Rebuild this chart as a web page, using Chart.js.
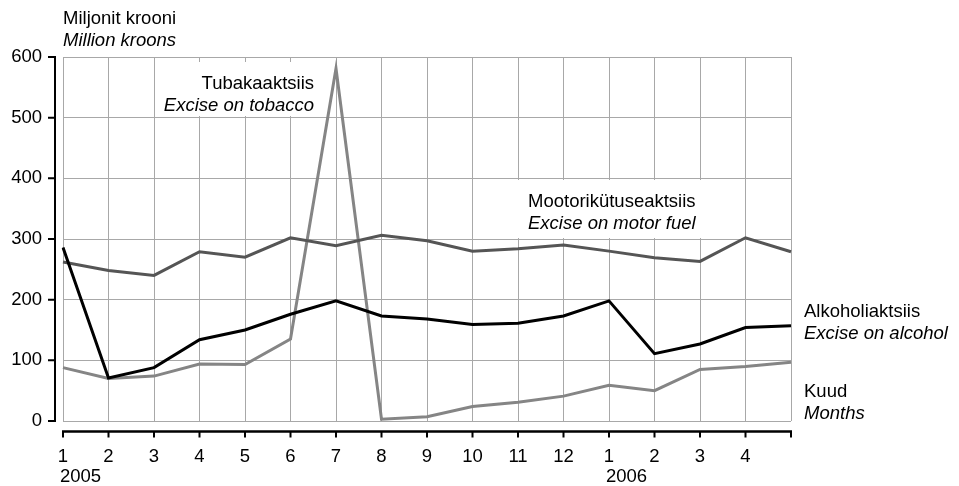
<!DOCTYPE html>
<html>
<head>
<meta charset="utf-8">
<script src="https://cdn.jsdelivr.net/npm/chart.js@4/dist/chart.umd.min.js"></script>
<style>
  html, body { margin: 0; padding: 0; background: #fff; }
  #wrap { width: 959px; height: 486px; }
</style>
</head>
<body>
<div id="wrap"><canvas id="excise-chart" width="959" height="486"></canvas></div>
<script>
// months on the x axis, last point has no label
const monthLabels = ['1', '2', '3', '4', '5', '6', '7', '8', '9', '10', '11', '12', '1', '2', '3', '4', ''];
const yearLabels = ['2005', '', '', '', '', '', '', '', '', '', '', '', '2006', '', '', '', ''];
const yTicks = [0, 100, 200, 300, 400, 500, 600];

// million kroons
const motorFuel = [262, 248, 240, 279, 270, 302, 289, 306, 297, 280, 284, 290, 280, 269, 263, 302, 279];
const alcohol = [286, 71, 88, 134, 150, 176, 198, 173, 168, 159, 161, 173, 198, 111, 127, 154, 157];
const tobacco = [88, 70, 74, 94, 93, 135, 581, 3, 7, 24, 31, 41, 59, 50, 85, 90, 97];

const unitTitle = ['Miljonit krooni', 'Million kroons'];
const tobaccoName = ['Tubakaaktsiis', 'Excise on tobacco'];
const motorName = ['Mootorikütuseaktsiis', 'Excise on motor fuel'];
const alcoholName = ['Alkoholiaktsiis', 'Excise on alcohol'];
const monthsName = ['Kuud', 'Months'];

const FONT = '"Liberation Sans", Arial, Helvetica, sans-serif';
const FSIZE = 18.5;
const GRID = '#a8a8a8';

Chart.defaults.font.family = FONT;
Chart.defaults.font.size = FSIZE;
Chart.defaults.color = '#000';

function drawPair(ctx, lines, x, y, align) {
    ctx.textAlign = align;
    ctx.textBaseline = 'alphabetic';
    ctx.fillStyle = '#000';
    ctx.font = FSIZE + 'px ' + FONT;
    ctx.fillText(lines[0], x, y);
    ctx.font = 'italic ' + FSIZE + 'px ' + FONT;
    ctx.fillText(lines[1], x, y + 22);
}

const decorations = {
    id: 'decorations',
    beforeDatasetsDraw(chart) {
        const ctx = chart.ctx;
        ctx.save();
        // white boxes behind the in-plot notes
        ctx.fillStyle = '#fff';
        ctx.fillRect(190, 62, 130, 54);
        ctx.fillRect(518, 180, 202, 58);
        drawPair(ctx, tobaccoName, 314, 89, 'right');
        drawPair(ctx, motorName, 528, 207, 'left');
        ctx.restore();
    },
    afterDraw(chart) {
        const ctx = chart.ctx;
        const x = chart.scales.x;
        const y = chart.scales.y;
        ctx.save();
        ctx.strokeStyle = '#000';
        ctx.lineWidth = 2;

        // detached y axis
        const yAxisX = 55;
        ctx.beginPath();
        ctx.moveTo(yAxisX, y.getPixelForValue(600) - 1);
        ctx.lineTo(yAxisX, y.getPixelForValue(0) + 1);
        yTicks.forEach(v => {
            const py = y.getPixelForValue(v);
            ctx.moveTo(yAxisX, py);
            ctx.lineTo(yAxisX - 7, py);
        });
        ctx.stroke();

        // detached x axis
        const xAxisY = 431.5;
        const last = monthLabels.length - 1;
        ctx.lineWidth = 2.5;
        ctx.beginPath();
        ctx.moveTo(x.getPixelForValue(0) - 1, xAxisY);
        ctx.lineTo(x.getPixelForValue(last) + 1, xAxisY);
        ctx.stroke();
        ctx.lineWidth = 2;
        ctx.beginPath();
        monthLabels.forEach((m, i) => {
            const px = x.getPixelForValue(i);
            ctx.moveTo(px, xAxisY);
            ctx.lineTo(px, xAxisY + 6);
        });
        ctx.stroke();

        // years under the month numbers
        ctx.fillStyle = '#000';
        ctx.font = FSIZE + 'px ' + FONT;
        ctx.textAlign = 'left';
        ctx.textBaseline = 'alphabetic';
        yearLabels.forEach((yr, i) => {
            if (yr) ctx.fillText(yr, x.getPixelForValue(i) - 3, 482);
        });

        drawPair(ctx, unitTitle, 63, 24, 'left');
        drawPair(ctx, alcoholName, 804, 317, 'left');
        drawPair(ctx, monthsName, 804, 397, 'left');
        ctx.restore();
    }
};

const lineStyle = { pointRadius: 0, pointHoverRadius: 0, tension: 0, borderWidth: 3, fill: false };

new Chart(document.getElementById('excise-chart'), {
    type: 'line',
    data: {
        labels: monthLabels,
        datasets: [
            { label: 'Alkoholiaktsiis', data: alcohol, borderColor: '#000', ...lineStyle },
            { label: 'Mootorikütuseaktsiis', data: motorFuel, borderColor: '#555555', ...lineStyle },
            { label: 'Tubakaaktsiis', data: tobacco, borderColor: '#858585', ...lineStyle }
        ]
    },
    options: {
        responsive: false,
        animation: false,
        layout: { padding: { top: 57, right: 168, bottom: 0, left: 0 } },
        plugins: { legend: { display: false }, tooltip: { enabled: false } },
        scales: {
            x: {
                offset: false,
                grid: { color: GRID, lineWidth: 1, drawTicks: false },
                border: { display: false },
                ticks: { autoSkip: false, maxRotation: 0, padding: 25, font: { size: FSIZE } },
                afterFit: s => { s.height = 65; }
            },
            y: {
                min: 0,
                max: 600,
                grid: { color: GRID, lineWidth: 1, drawTicks: false },
                border: { display: false },
                ticks: { stepSize: 100, padding: 21, font: { size: FSIZE } },
                afterFit: s => { s.width = 63; }
            }
        }
    },
    plugins: [decorations]
});
</script>
</body>
</html>
